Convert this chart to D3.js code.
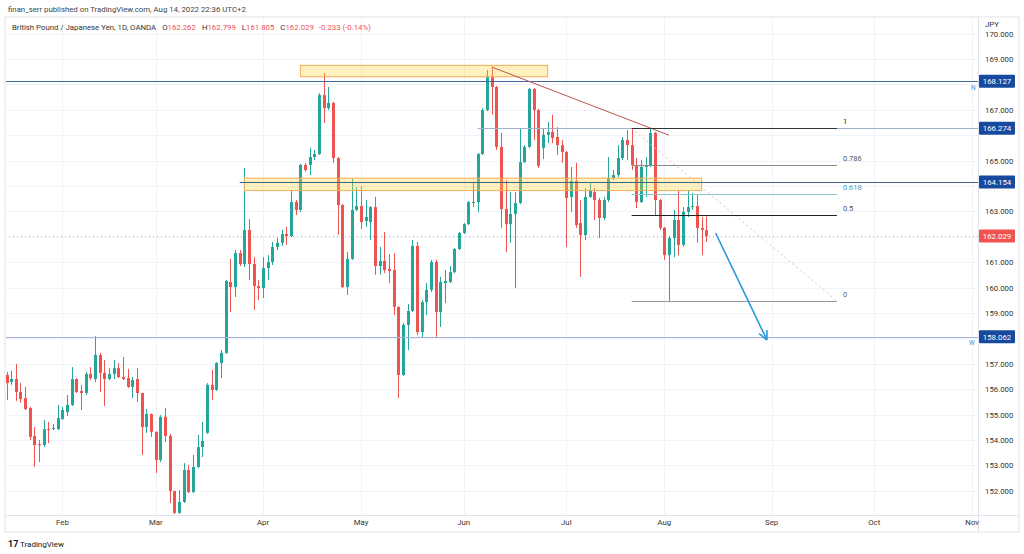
<!DOCTYPE html>
<html><head><meta charset="utf-8">
<script src="https://cdn.jsdelivr.net/npm/d3@7"></script>
<style>body{margin:0;background:#fff;} svg{display:block;font-family:Roboto,"Open Sans",sans-serif;}</style>
</head><body><svg id="c" width="1024" height="554"></svg>
<script>
// ---------- data ----------
const firstBar = "2022-01-14";
const opens = [
156.56,156.28,156.40,155.89,155.65,155.26,154.16,153.84,153.80,154.43,
154.43,154.43,154.83,155.10,155.38,156.40,155.93,155.85,156.60,156.40,
157.35,156.64,156.40,156.60,156.83,156.48,156.44,156.09,156.40,155.85,
154.51,155.02,154.32,153.21,154.91,154.16,151.99,151.13,151.56,152.82,
151.95,152.94,153.72,154.28,156.17,155.97,157.03,157.43,160.22,160.02,
161.36,160.93,162.27,160.93,160.06,159.98,160.77,161.01,161.60,161.76,
162.11,162.03,163.37,163.06,164.83,164.83,165.14,165.26,167.58,167.07,
167.27,165.10,163.25,160.02,161.13,163.06,163.21,162.62,162.58,163.17,
160.85,161.05,160.73,160.69,159.24,156.56,158.53,159.08,161.64,158.25,
159.43,159.91,161.01,159.04,160.18,160.22,160.61,161.52,162.15,162.50,
163.33,163.37,165.26,166.99,168.29,167.90,165.54,163.09,162.50,162.90,
163.33,164.94,165.54,167.82,166.99,165.50,166.01,166.13,165.93,165.61,
165.34,163.57,164.20,162.54,162.07,163.57,163.76,163.45,162.74,163.45,
164.32,164.43,165.10,165.81,165.61,164.83,163.37,164.75,164.83,166.09,
163.45,162.35,161.28,161.95,162.66,161.68,162.98,163.17,163.21,162.35,
162.262];
const highs = [
156.68,156.72,156.99,156.24,156.09,155.30,154.51,154.00,154.79,154.71,
154.63,155.38,155.30,155.77,156.87,156.44,156.17,156.68,156.87,158.09,
157.43,157.15,156.83,157.15,157.03,157.27,156.80,156.48,156.83,155.86,
155.22,155.04,154.34,154.98,155.26,154.24,152.00,152.03,153.09,153.02,
153.41,154.20,154.71,156.24,156.76,157.07,157.54,160.30,161.13,161.48,
161.48,164.71,162.70,161.20,160.30,161.20,161.28,161.80,161.95,162.27,
162.39,163.84,163.45,164.87,164.91,165.50,165.42,167.66,168.45,167.90,
167.31,165.14,163.29,161.40,164.28,163.96,164.00,163.45,163.21,163.57,
161.60,162.19,161.32,161.36,159.26,158.61,159.35,161.87,161.80,159.51,
160.18,161.09,161.09,160.42,160.69,160.85,161.56,162.19,162.54,163.41,
164.12,165.30,167.07,168.57,168.69,167.94,166.09,164.24,163.76,163.76,
166.28,165.61,167.86,167.86,167.03,166.28,166.52,166.80,166.32,165.81,
165.38,164.75,164.91,163.45,163.92,164.12,163.92,163.53,163.57,165.14,
164.63,165.61,165.93,166.20,166.28,165.10,165.02,165.14,166.28,166.13,
163.49,162.39,162.03,163.06,163.84,163.17,163.84,163.72,163.65,162.78,
162.799];
const lows = [
155.57,156.17,155.54,155.46,155.18,154.00,152.94,153.13,153.72,153.88,
154.39,154.39,154.79,154.95,155.34,155.85,155.18,155.77,156.36,156.28,
155.89,155.34,156.36,156.40,156.44,156.36,156.05,155.65,155.50,153.41,
154.28,154.12,152.70,153.13,153.92,151.52,151.09,151.09,151.52,151.91,
151.91,152.90,153.33,154.24,155.57,155.93,156.44,157.39,159.04,159.63,
160.85,160.81,160.30,159.12,159.51,159.59,160.30,160.89,161.48,161.64,
161.68,161.99,162.86,162.98,164.55,164.43,165.02,165.22,166.48,166.99,
164.91,162.07,159.98,159.71,161.09,163.02,162.31,162.39,161.87,160.50,
160.50,160.57,160.18,158.92,155.65,156.52,157.54,159.04,158.13,158.02,
158.92,159.83,158.06,158.45,159.39,160.18,160.57,161.48,162.11,162.46,
163.17,162.98,165.22,166.95,166.80,165.42,162.35,161.40,161.76,159.98,
163.29,164.91,165.50,165.81,164.71,165.06,165.69,165.69,165.22,164.91,
161.60,162.98,162.35,160.42,161.87,163.53,162.66,161.95,162.66,163.37,
164.24,164.35,165.02,165.02,164.63,163.13,163.33,163.57,164.75,162.86,
162.27,161.09,159.47,161.20,161.28,161.60,162.78,163.06,161.76,161.28,
161.805];
const closes = [
156.24,156.40,155.89,155.61,155.22,154.12,153.80,153.80,154.43,154.39,
154.47,154.87,155.18,155.38,156.40,155.89,155.85,156.60,156.44,157.35,
156.64,156.40,156.60,156.83,156.48,156.40,156.09,156.36,155.85,154.51,
155.02,154.32,153.21,154.91,154.16,151.99,151.13,151.56,152.82,151.95,
152.94,153.72,153.96,156.17,155.97,157.03,157.43,160.26,160.02,161.36,
160.93,162.27,160.93,160.06,159.98,160.77,161.01,161.60,161.76,162.11,
162.03,163.37,163.06,164.83,164.63,165.14,165.26,167.58,167.07,167.27,
165.10,163.25,160.02,161.13,163.06,163.21,162.58,162.78,163.17,160.85,
161.05,160.69,160.65,159.24,156.56,158.53,159.08,161.64,158.25,159.43,
159.91,161.01,159.04,160.22,160.26,160.61,161.52,162.15,162.50,163.37,
163.37,165.26,166.99,168.29,167.90,165.54,163.09,162.50,162.90,163.33,
164.94,165.54,167.82,166.99,164.79,166.01,166.13,165.89,165.61,165.34,
163.53,164.20,162.46,162.07,163.57,163.84,163.45,162.74,163.45,164.32,
164.43,165.10,165.81,165.61,164.83,163.37,164.75,164.83,166.09,163.45,
162.35,161.28,161.95,162.66,161.68,162.98,163.17,163.21,162.35,162.27,
162.029];
const priceTicks = [152,153,154,155,156,157,158,159,160,161,162,163,164,165,166,167,168,169,170];
const monthNames = ["Feb","Mar","Apr","May","Jun","Jul","Aug","Sep","Oct","Nov"];
const levelPrices = [168.127, 166.274, 164.154, 158.062];
const levelStart = ["2022-01-14","2022-06-06","2022-03-25","2022-01-14"];
const lastPrice = 162.029;
const boxes = [
  {from:"2022-04-13", to:"2022-06-27", top:168.75, bottom:168.30},
  {from:"2022-03-28", to:"2022-08-11", top:164.31, bottom:163.82}
];
const trendLine = {from:"2022-06-09", p1:168.685, to:"2022-08-02", p2:166.00};
const fibAnchors = {from:"2022-07-21", high:166.274, to:"2022-09-21", low:159.47};
const fibLevels = [1, 0.786, 0.618, 0.5, 0];
const arrow = {from:"2022-08-16", p1:162.15, to:"2022-08-31", p2:157.94};

// ---------- calendar of trading days ----------
const bars = [];
{ let t = Date.UTC(2022,0,14); const end = Date.UTC(2022,10,8);
  while (t <= end) { const d = new Date(t); const wd = d.getUTCDay(); if (wd !== 0 && wd !== 6) bars.push(d); t += 864e5; } }
const iso = d => d.toISOString().slice(0,10);
const idxOf = s => bars.findIndex(d => iso(d) === s);

const svg = d3.select("#c");
const L = 5, R = 978, T = 17, B = 515, FR = 1019, FB = 532;
const x = d3.scaleLinear().domain([0, 207]).range([6.5, 972.2]);
const y = d3.scaleLinear().domain([151.047, 170.693]).range([B, 16]);
const UP = "#26a69a", DN = "#ef5350";

// header
svg.append("text").attr("x", 8).attr("y", 12).attr("font-size", 7.8).attr("fill", "#444")
  .text("finan_serr published on TradingView.com, Aug 14, 2022 22:36 UTC+2");

// frame
svg.append("rect").attr("x", L).attr("y", T).attr("width", FR - L).attr("height", FB - T)
  .attr("fill", "#fff").attr("stroke", "#e0e3eb");
svg.append("defs").append("clipPath").attr("id", "clip").append("rect")
  .attr("x", L + 1).attr("y", T + 1).attr("width", R - L - 1).attr("height", B - T - 1);
const g = svg.append("g").attr("clip-path", "url(#clip)");

// grid
g.selectAll(".hg").data(priceTicks).join("line")
  .attr("x1", L).attr("x2", R).attr("y1", d => Math.round(y(d)) + 0.5).attr("y2", d => Math.round(y(d)) + 0.5)
  .attr("stroke", "#f0f3fa");
const monthIdx = monthNames.map((m, i) => bars.findIndex(d => d.getUTCMonth() === i + 1));
g.selectAll(".vg").data(monthIdx).join("line")
  .attr("x1", d => Math.round(x(d)) + 0.5).attr("x2", d => Math.round(x(d)) + 0.5).attr("y1", T).attr("y2", B)
  .attr("stroke", "#f0f3fa");

// current price line
g.append("line").attr("x1", L).attr("x2", R).attr("y1", Math.round(y(lastPrice)) + 0.5).attr("y2", Math.round(y(lastPrice)) + 0.5)
  .attr("stroke", "#ef5350").attr("stroke-opacity", 0.6).attr("stroke-dasharray", "1,3");

// candles
const data = opens.map((o, i) => ({i, o, h: highs[i], l: lows[i], c: closes[i]}));
const cg = g.append("g");
cg.selectAll(".w").data(data).join("line")
  .attr("x1", d => Math.round(x(d.i)) + 0.5).attr("x2", d => Math.round(x(d.i)) + 0.5)
  .attr("y1", d => y(d.h)).attr("y2", d => y(d.l))
  .attr("stroke", d => d.c >= d.o ? UP : DN);
cg.selectAll(".b").data(data).join("rect")
  .attr("x", d => Math.round(x(d.i)) - 1).attr("width", 3)
  .attr("y", d => y(Math.max(d.o, d.c)))
  .attr("height", d => Math.max(1, y(Math.min(d.o, d.c)) - y(Math.max(d.o, d.c))))
  .attr("fill", d => d.c >= d.o ? UP : DN);

// boxes
boxes.forEach(bx => {
  g.append("rect").attr("x", x(idxOf(bx.from))).attr("width", x(idxOf(bx.to)) - x(idxOf(bx.from)))
    .attr("y", y(bx.top)).attr("height", y(bx.bottom) - y(bx.top))
    .attr("fill", "rgba(255,210,60,0.33)").attr("stroke", "#f3ad55").attr("stroke-width", 1);
});

// horizontal levels
const levelColors = ["#41689a", "#9fb2d2", "#3f6586", "#a9b1dd"];
levelPrices.forEach((p, k) => {
  g.append("line").attr("x1", x(idxOf(levelStart[k])) - (k === 0 || k === 3 ? 20 : 0)).attr("x2", R)
    .attr("y1", Math.round(y(p)) + 0.5).attr("y2", Math.round(y(p)) + 0.5)
    .attr("stroke", levelColors[k]).attr("stroke-width", 1.2);
});
svg.append("text").attr("x", 971).attr("y", 90).attr("font-size", 6.5).attr("fill", "#4a90d9").text("N");
svg.append("text").attr("x", 969).attr("y", 345).attr("font-size", 6.5).attr("fill", "#4a90d9").text("W");

// trend line
g.append("line").attr("x1", x(idxOf(trendLine.from))).attr("y1", y(trendLine.p1))
  .attr("x2", x(idxOf(trendLine.to))).attr("y2", y(trendLine.p2))
  .attr("stroke", "#c0554f").attr("stroke-width", 1);

// fibonacci
const fx1 = x(idxOf(fibAnchors.from)), fx2 = x(idxOf(fibAnchors.to));
const fibY = lv => y(fibAnchors.low + lv * (fibAnchors.high - fibAnchors.low));
g.append("line").attr("x1", fx1).attr("y1", fibY(1)).attr("x2", fx2).attr("y2", fibY(0))
  .attr("stroke", "#f0b8b8").attr("stroke-dasharray", "2,3");
const fibLineCol = {"1": "#333", "0.786": "#8a8a8a", "0.618": "#8ec3cf", "0.5": "#222", "0": "#9a9a9a"};
const fibTextCol = {"1": "#222", "0.786": "#555", "0.618": "#4aa6bd", "0.5": "#555", "0": "#666"};
fibLevels.forEach(lv => {
  g.append("line").attr("x1", fx1).attr("x2", fx2).attr("y1", Math.round(fibY(lv)) + 0.5).attr("y2", Math.round(fibY(lv)) + 0.5)
    .attr("stroke", fibLineCol[lv]).attr("stroke-width", 1);
  svg.append("text").attr("x", fx2 + 6).attr("y", fibY(lv) - 4).attr("font-size", 7.5)
    .attr("fill", fibTextCol[lv]).text(String(lv));
});

// arrow
const ax1 = x(idxOf(arrow.from)), ay1 = y(arrow.p1), ax2 = x(idxOf(arrow.to)), ay2 = y(arrow.p2);
g.append("line").attr("x1", ax1).attr("y1", ay1).attr("x2", ax2).attr("y2", ay2)
  .attr("stroke", "#2a9ad8").attr("stroke-width", 1.6);
{ const ang = Math.atan2(ay2 - ay1, ax2 - ax1), len = 10;
  [-0.45, 0.45].forEach(a => g.append("line").attr("x1", ax2).attr("y1", ay2)
    .attr("x2", ax2 - len * Math.cos(ang + a)).attr("y2", ay2 - len * Math.sin(ang + a))
    .attr("stroke", "#2a9ad8").attr("stroke-width", 1.6)); }

// separators
svg.append("line").attr("x1", R + 0.5).attr("x2", R + 0.5).attr("y1", T).attr("y2", FB).attr("stroke", "#e0e3eb");
svg.append("line").attr("x1", L).attr("x2", FR).attr("y1", B + 0.5).attr("y2", B + 0.5).attr("stroke", "#e0e3eb");

// price axis (ticks hidden where a price tag sits)
const tagPrices = levelPrices.concat([lastPrice]);
const freeTicks = priceTicks.filter(t => tagPrices.every(p => Math.abs(y(p) - y(t)) > 11));
svg.selectAll(".pt").data(freeTicks).join("text")
  .attr("x", 985).attr("y", d => y(d) + 3).attr("font-size", 7.8).attr("fill", "#333")
  .text(d => d.toFixed(3));
svg.append("text").attr("x", 985).attr("y", 27).attr("font-size", 7.8).attr("fill", "#333").text("JPY");
const tag = (p, col) => {
  const yy = y(p);
  svg.append("rect").attr("x", 979).attr("y", yy - 6.5).attr("width", 36).attr("height", 13).attr("rx", 1).attr("fill", col);
  svg.append("text").attr("x", 997).attr("y", yy + 3).attr("text-anchor", "middle").attr("font-size", 7.8).attr("fill", "#fff")
    .text(p.toFixed(3));
};
levelPrices.forEach(p => tag(p, "#174a9e"));
tag(lastPrice, "#ef5350");

// time axis
svg.selectAll(".mt").data(monthIdx).join("text")
  .attr("x", d => x(d)).attr("y", 525).attr("text-anchor", "middle").attr("font-size", 7.8).attr("fill", "#333")
  .text((d, i) => monthNames[i]);

// legend
const leg = svg.append("text").attr("x", 12).attr("y", 30).attr("font-size", 7.8).attr("fill", "#333");
leg.append("tspan").text("British Pound / Japanese Yen, 1D, OANDA");
const last = data[data.length - 1];
[["O", last.o], ["H", last.h], ["L", last.l], ["C", last.c]].forEach(([k, v]) => {
  leg.append("tspan").attr("dx", 6).attr("fill", "#333").text(k);
  leg.append("tspan").attr("fill", DN).text(v.toFixed(3));
});
leg.append("tspan").attr("dx", 5).attr("fill", DN).text("-0.233 (-0.14%)");

// footer
svg.append("text").attr("x", 8).attr("y", 547).attr("font-size", 9).attr("font-weight", "bold").attr("fill", "#131722").text("17");
svg.append("text").attr("x", 20).attr("y", 547).attr("font-size", 8).attr("fill", "#131722").text("TradingView");
</script></body></html>
